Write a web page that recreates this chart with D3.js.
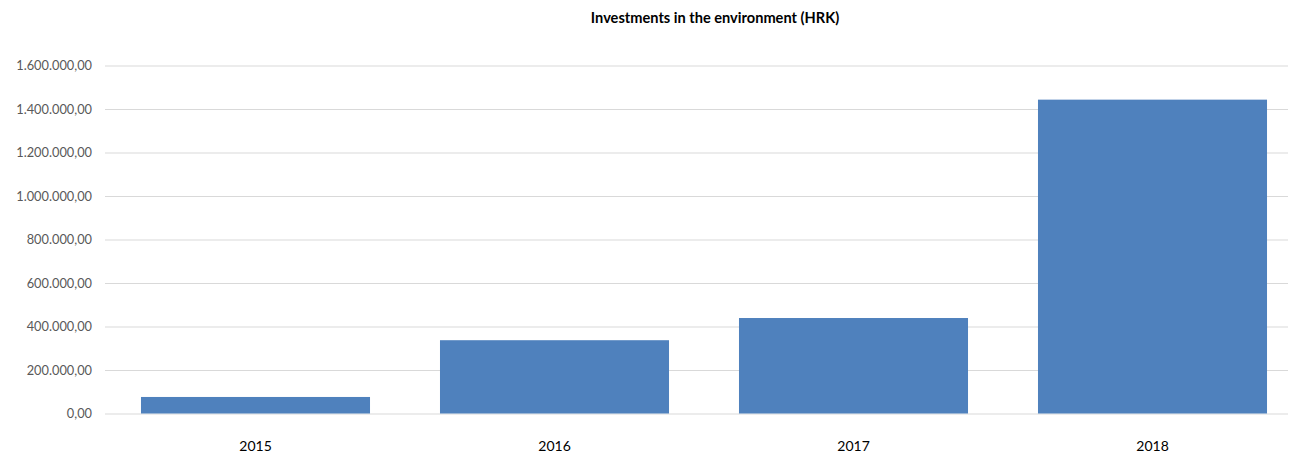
<!DOCTYPE html>
<html>
<head>
<meta charset="utf-8">
<script src="https://cdn.jsdelivr.net/npm/d3@7"></script>
<style>
  html, body { margin: 0; padding: 0; background: #fff; }
  svg { display: block; }
</style>
</head>
<body>
<svg id="chart" width="1289" height="454"></svg>
<script>
// Yearly investments in the environment, in HRK
const years = ["2015", "2016", "2017", "2018"];
const investments = [76000, 337000, 439000, 1443000];
const yTicks = [0, 200000, 400000, 600000, 800000, 1000000, 1200000, 1400000, 1600000];
const chartTitle = "Investments in the environment (HRK)";

const svg = d3.select("#chart");
const W = 1289, H = 454;
const margin = { left: 106, right: -13, top: 65.5, bottom: 40.5 };
const font = "Lato, 'Open Sans', sans-serif";

const x = d3.scaleBand()
  .domain(years)
  .range([margin.left, W - margin.right])
  .paddingInner(0.234)
  .paddingOuter(0.117);

const y = d3.scaleLinear()
  .domain([0, 1600000])
  .range([H - margin.bottom, margin.top]);

// Croatian number format: dot for thousands, comma for decimals
const hr = d3.formatLocale({ decimal: ",", thousands: ".", grouping: [3], currency: ["", " kn"] });
const fmt = hr.format(",.2f");

// Horizontal gridlines with value labels
const yAxis = d3.axisLeft(y)
  .tickValues(yTicks)
  .tickFormat(fmt)
  .tickSize(-(W - margin.left))
  .tickPadding(13);

const gy = svg.append("g")
  .attr("transform", `translate(${margin.left - 1},0)`)
  .call(yAxis);
gy.select(".domain").remove();
gy.selectAll(".tick line").attr("stroke", "#d9d9d9").attr("stroke-width", 1);
gy.selectAll(".tick text")
  .attr("fill", "#595959")
  .style("font-family", font)
  .style("font-size", "12.8px");

// Bars
svg.append("g")
  .selectAll("rect")
  .data(years.map((yr, i) => ({ yr, v: investments[i] })))
  .join("rect")
  .attr("x", d => x(d.yr))
  .attr("width", x.bandwidth())
  .attr("y", d => y(d.v))
  .attr("height", d => y(0) - y(d.v))
  .attr("fill", "#4f81bd");

// Category labels
const xAxis = d3.axisBottom(x).tickSize(0).tickPadding(28);
const gx = svg.append("g")
  .attr("transform", `translate(0,${y(0)})`)
  .call(xAxis);
gx.select(".domain").remove();
gx.selectAll(".tick text")
  .attr("fill", "#000")
  .style("font-family", font)
  .style("font-size", "14px");

// Title
svg.append("text")
  .attr("x", 715)
  .attr("y", 23)
  .attr("text-anchor", "middle")
  .attr("fill", "#000")
  .style("font-family", font)
  .style("font-weight", "bold")
  .style("font-size", "14.6px")
  .text(chartTitle);
</script>
</body>
</html>
